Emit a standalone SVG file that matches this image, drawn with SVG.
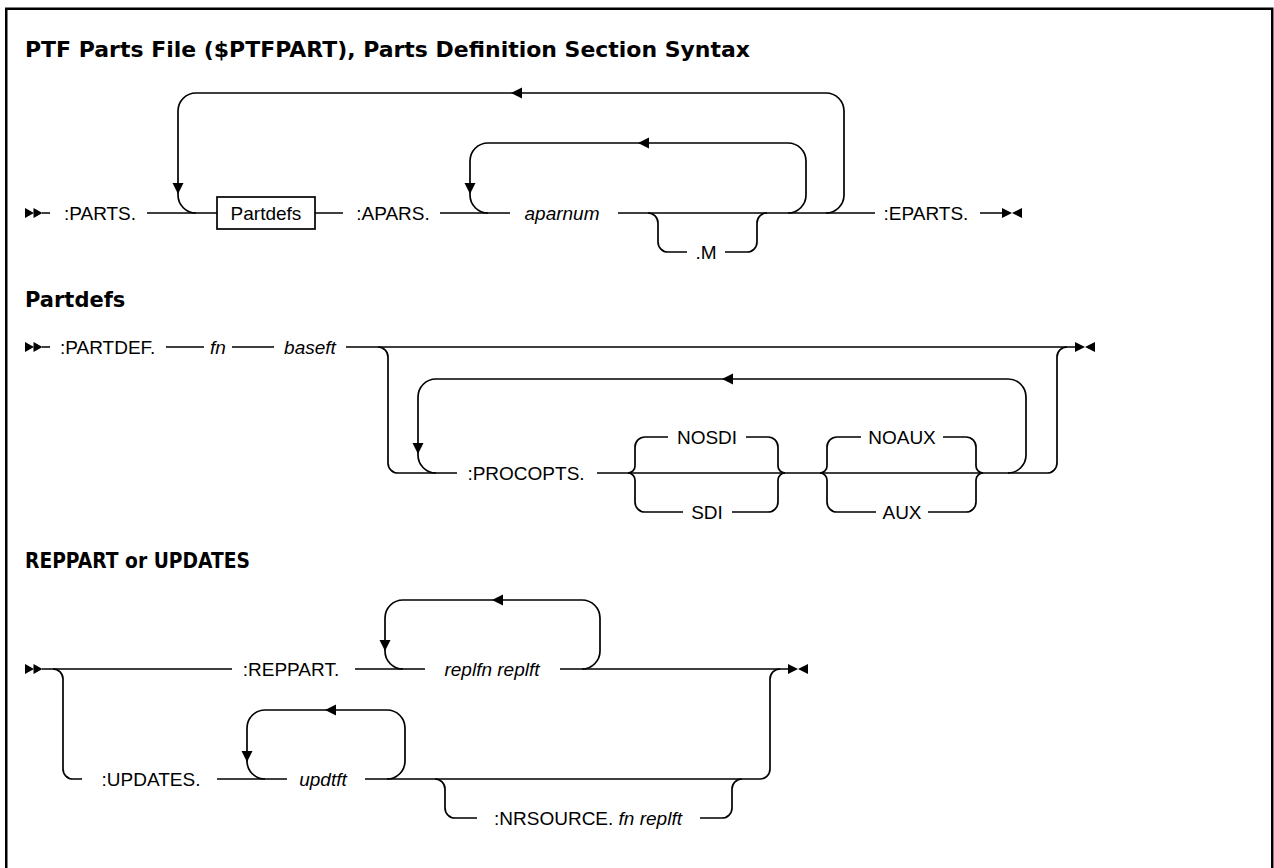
<svg xmlns="http://www.w3.org/2000/svg" xmlns:xlink="http://www.w3.org/1999/xlink" width="1274" height="868" viewBox="0 0 1274 868">
<style>
.ln{fill:none;stroke:#000;stroke-width:1.7}
.t{font-family:"Liberation Sans",Arial,sans-serif;font-size:19px;fill:#000}
.i{font-style:italic}
.h{font-family:"DejaVu Sans","Liberation Sans",sans-serif;font-size:21px;font-weight:bold;fill:#000}
.m{text-anchor:middle}
</style>
<defs>
<path id="aL" d="M0 0 L11 -5.5 L11 5.5 Z"/>
<path id="aD" d="M0 0 L-5.5 -11 L5.5 -11 Z"/>
<g id="st"><path d="M0 -5 L9 0 L0 5 Z"/><path d="M8.5 -5 L17.5 0 L8.5 5 Z"/></g>
<g id="en"><path d="M0 -5 L10 0 L0 5 Z"/><path d="M20 -5 L10 0 L20 5 Z"/></g>
</defs>
<rect x="6.25" y="8.75" width="1266" height="900" fill="#fff" stroke="#000" stroke-width="2.5"/>

<g id="headings">
<text class="h" x="25" y="57" textLength="725" lengthAdjust="spacingAndGlyphs">PTF Parts File ($PTFPART), Parts Definition Section Syntax</text>
<text class="h" x="25" y="307">Partdefs</text>
<text class="h" x="25" y="568" textLength="225" lengthAdjust="spacingAndGlyphs">REPPART or UPDATES</text>
</g>

<g id="connectors">
<!-- diagram 1 -->
<use xlink:href="#st" x="25" y="213"/>
<path class="ln" d="M42 213 H50 M147 213 H217 M315 213 H343 M440 213 H510 M618 213 H875 M980 213 H1002"/>
<path class="ln" d="M826 213 A18 18 0 0 0 844 195 V111 A18 18 0 0 0 826 93 H196 A18 18 0 0 0 178 111 V195 A18 18 0 0 0 196 213"/>
<path class="ln" d="M788 213 A18 18 0 0 0 806 195 V161 A18 18 0 0 0 788 143 H488 A18 18 0 0 0 470 161 V195 A18 18 0 0 0 488 213"/>
<path class="ln" d="M648 213 A10 10 0 0 1 658 223 V242 A10 10 0 0 0 668 252 H687 M725 252 H747 A10 10 0 0 0 757 242 V223 A10 10 0 0 1 767 213"/>
<use xlink:href="#aL" x="511" y="93"/>
<use xlink:href="#aL" x="638" y="143"/>
<use xlink:href="#aD" x="178" y="194"/>
<use xlink:href="#aD" x="470" y="194"/>
<use xlink:href="#en" x="1002" y="213"/>

<!-- diagram 2 -->
<use xlink:href="#st" x="25" y="347"/>
<path class="ln" d="M42 347 H50 M166 347 H204 M232 347 H274 M346 347 H1075"/>
<path class="ln" d="M378 347 A10 10 0 0 1 388 357 V463 A10 10 0 0 0 398 473 H457"/>
<path class="ln" d="M1008 473 A18 18 0 0 0 1026 455 V397 A18 18 0 0 0 1008 379 H436 A18 18 0 0 0 418 397 V455 A18 18 0 0 0 436 473"/>
<path class="ln" d="M597 473 H1047 A10 10 0 0 0 1057 463 V357 A10 10 0 0 1 1067 347"/>
<path class="ln" d="M628 473 A7 7 0 0 0 635 466 V447 A10 10 0 0 1 645 437 H668 M746 437 H768 A10 10 0 0 1 778 447 V466 A7 7 0 0 0 785 473"/>
<path class="ln" d="M628 473 A7 7 0 0 1 635 480 V502 A10 10 0 0 0 645 512 H683 M732 512 H768 A10 10 0 0 0 778 502 V480 A7 7 0 0 1 785 473"/>
<path class="ln" d="M820 473 A7 7 0 0 0 827 466 V447 A10 10 0 0 1 837 437 H861 M943 437 H966 A10 10 0 0 1 976 447 V466 A7 7 0 0 0 983 473"/>
<path class="ln" d="M820 473 A7 7 0 0 1 827 480 V502 A10 10 0 0 0 837 512 H876 M928 512 H966 A10 10 0 0 0 976 502 V480 A7 7 0 0 1 983 473"/>
<use xlink:href="#aL" x="722" y="379"/>
<use xlink:href="#aD" x="418" y="454"/>
<use xlink:href="#en" x="1075" y="347"/>

<!-- diagram 3 -->
<use xlink:href="#st" x="25" y="669"/>
<path class="ln" d="M42 669 H232 M355 669 H425 M560 669 H788"/>
<path class="ln" d="M53 669 A10 10 0 0 1 63 679 V769 A10 10 0 0 0 73 779 H82"/>
<path class="ln" d="M582 669 A18 18 0 0 0 600 651 V618 A18 18 0 0 0 582 600 H403 A18 18 0 0 0 385 618 V651 A18 18 0 0 0 403 669"/>
<path class="ln" d="M217 779 H287 M365 779 H760 A10 10 0 0 0 770 769 V679 A10 10 0 0 1 780 669"/>
<path class="ln" d="M387 779 A18 18 0 0 0 405 761 V728 A18 18 0 0 0 387 710 H265 A18 18 0 0 0 247 728 V761 A18 18 0 0 0 265 779"/>
<path class="ln" d="M435 779 A10 10 0 0 1 445 789 V808 A10 10 0 0 0 455 818 H477 M700 818 H722 A10 10 0 0 0 732 808 V789 A10 10 0 0 1 742 779"/>
<use xlink:href="#aL" x="492" y="600"/>
<use xlink:href="#aD" x="385" y="651"/>
<use xlink:href="#aL" x="325" y="710"/>
<use xlink:href="#aD" x="247" y="762"/>
<use xlink:href="#en" x="788" y="669"/>
</g>

<g id="n-parts"><text class="t m" x="100" y="219.5">:PARTS.</text></g>
<g id="n-partdefs"><rect x="217" y="197" width="98" height="32" fill="#fff" stroke="#000" stroke-width="1.7"/><text class="t m" x="266" y="219.5">Partdefs</text></g>
<g id="n-apars"><text class="t m" x="393" y="219.5">:APARS.</text></g>
<g id="n-aparnum"><text class="t i m" x="562" y="219.5">aparnum</text></g>
<g id="n-m"><text class="t m" x="706" y="258.5">.M</text></g>
<g id="n-eparts"><text class="t m" x="926" y="219.5">:EPARTS.</text></g>

<g id="n-partdef"><text class="t" x="60" y="353.5">:PARTDEF.</text></g>
<g id="n-fn"><text class="t i m" x="218" y="353.5">fn</text></g>
<g id="n-baseft"><text class="t i m" x="310" y="353.5">baseft</text></g>
<g id="n-procopts"><text class="t m" x="526" y="479.5">:PROCOPTS.</text></g>
<g id="n-nosdi"><text class="t m" x="707" y="443.5">NOSDI</text></g>
<g id="n-sdi"><text class="t m" x="707" y="518.5">SDI</text></g>
<g id="n-noaux"><text class="t m" x="902" y="443.5">NOAUX</text></g>
<g id="n-aux"><text class="t m" x="902" y="518.5">AUX</text></g>

<g id="n-reppart"><text class="t m" x="291" y="675.5">:REPPART.</text></g>
<g id="n-replfn"><text class="t i m" x="492" y="675.5">replfn replft</text></g>
<g id="n-updates"><text class="t m" x="151" y="785.5">:UPDATES.</text></g>
<g id="n-updtft"><text class="t i m" x="323" y="785.5">updtft</text></g>
<g id="n-nrsource"><text class="t m" x="588" y="824.5">:NRSOURCE. <tspan class="i">fn replft</tspan></text></g>
</svg>
